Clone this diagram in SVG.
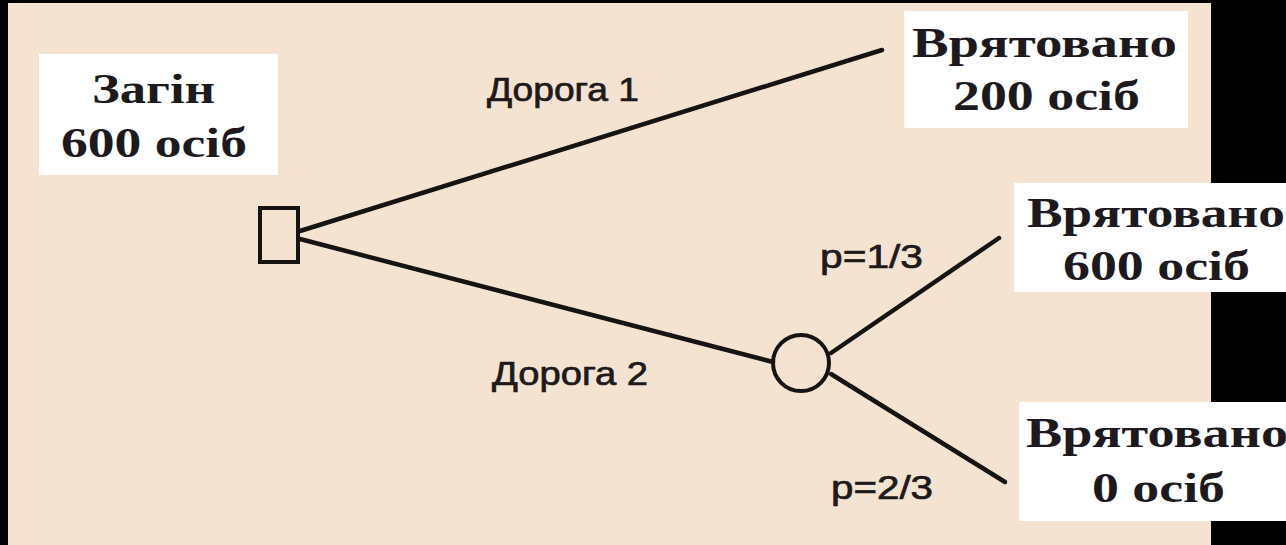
<svg xmlns="http://www.w3.org/2000/svg" width="1286" height="545" viewBox="0 0 1286 545">
<style>
.box{fill:#ffffff}
.serif{font-family:"Liberation Serif","Times New Roman",serif;font-weight:bold;font-size:42px;fill:#1c1a1e}
.sans{font-family:"Liberation Sans",Arial,sans-serif;font-size:33px;fill:#1c1a1a;stroke:#1c1a1a;stroke-width:0.7}
.edge{stroke:#161412;stroke-width:4.5;fill:none;stroke-linecap:round}
.shape{stroke:#161412;stroke-width:4;fill:none}
</style>
<rect x="0" y="0" width="1286" height="545" fill="#000000"/>
<rect x="8" y="3" width="1203" height="542" fill="#F4E3D0"/>
<g id="connectors">
<line class="edge" x1="300" y1="231" x2="882" y2="50"/>
<line class="edge" x1="300" y1="239" x2="773" y2="362"/>
<line class="edge" x1="831" y1="353" x2="999" y2="238"/>
<line class="edge" x1="831" y1="374" x2="1005" y2="482"/>
<text class="sans" x="487" y="101" textLength="152" lengthAdjust="spacingAndGlyphs">Дорога 1</text>
<text class="sans" x="492" y="385" textLength="156" lengthAdjust="spacingAndGlyphs">Дорога 2</text>
<text class="sans" x="820" y="268" textLength="103" lengthAdjust="spacingAndGlyphs">p=1/3</text>
<text class="sans" x="831" y="499" textLength="102" lengthAdjust="spacingAndGlyphs">p=2/3</text>
</g>
<g id="start">
<rect class="box" x="39" y="54" width="239" height="121"/>
<text class="serif" x="92" y="103" textLength="123" lengthAdjust="spacingAndGlyphs">Загін</text>
<text class="serif" x="61" y="157" textLength="186" lengthAdjust="spacingAndGlyphs">600 осіб</text>
</g>
<g id="decision">
<rect class="shape" x="260" y="208" width="38" height="54"/>
</g>
<g id="chance">
<circle class="shape" cx="801" cy="363" r="28"/>
</g>
<g id="outcome1">
<rect class="box" x="904" y="11" width="284" height="117"/>
<text class="serif" x="912" y="57" textLength="265" lengthAdjust="spacingAndGlyphs">Врятовано</text>
<text class="serif" x="953" y="110" textLength="187" lengthAdjust="spacingAndGlyphs">200 осіб</text>
</g>
<g id="outcome2">
<rect class="box" x="1014" y="183" width="272" height="109"/>
<text class="serif" x="1027" y="227" textLength="258" lengthAdjust="spacingAndGlyphs">Врятовано</text>
<text class="serif" x="1063" y="280" textLength="187" lengthAdjust="spacingAndGlyphs">600 осіб</text>
</g>
<g id="outcome3">
<rect class="box" x="1019" y="402" width="267" height="119"/>
<text class="serif" x="1026" y="447" textLength="262" lengthAdjust="spacingAndGlyphs">Врятовано</text>
<text class="serif" x="1092" y="502" textLength="133" lengthAdjust="spacingAndGlyphs">0 осіб</text>
</g>
</svg>
